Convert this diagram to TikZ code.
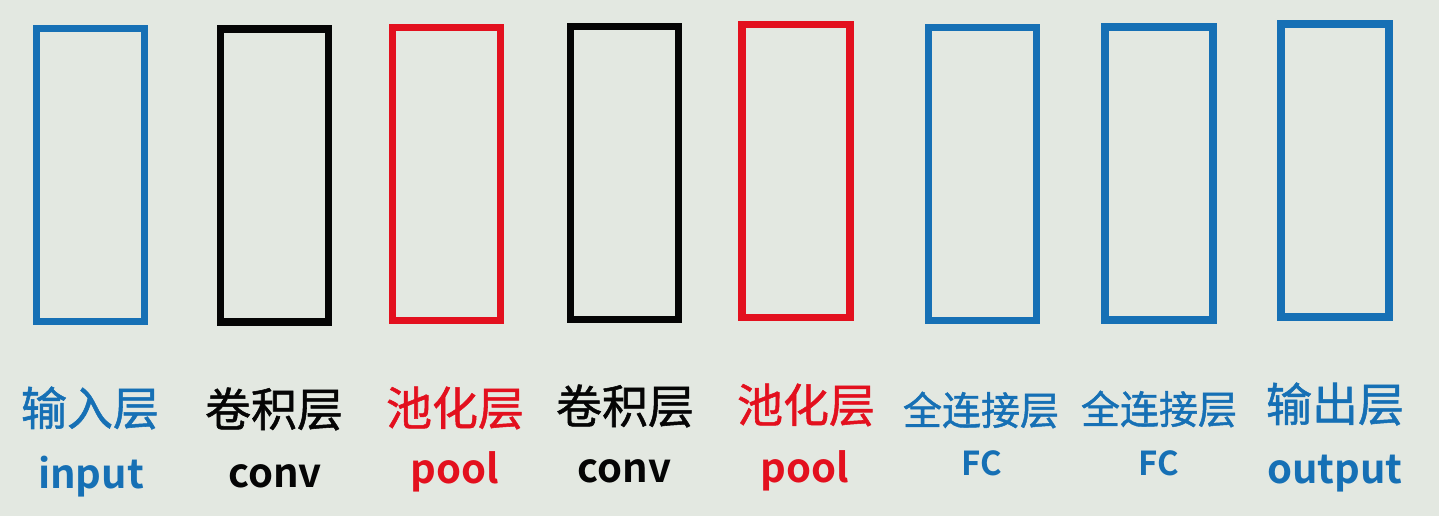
\documentclass[tikz,border=0pt]{standalone}
\usepackage{fontspec}
\newfontfamily\cjk[RawFeature={embolden=1.2}]{Noto Sans CJK SC}
\newfontfamily\cjkb{Noto Sans CJK SC Bold}
\definecolor{bg}{HTML}{E3E8E1}
\definecolor{lblue}{HTML}{1670B5}
\definecolor{lred}{HTML}{E3101E}
\definecolor{lblack}{HTML}{050505}
\tikzset{
  layerbox/.style={draw=#1, line width=7.5pt, minimum width=108pt, minimum height=293pt, inner sep=0pt},
  zh/.style={text=#1, font=\cjk\fontsize{46pt}{46pt}\selectfont, inner sep=0pt, anchor=center},
  zhs/.style={text=#1, font=\cjk\fontsize{39pt}{39pt}\selectfont, inner sep=0pt, anchor=center},
  en/.style={text=#1, font=\cjkb\fontsize{40pt}{40pt}\selectfont, inner sep=0pt, anchor=base},
  ens/.style={text=#1, font=\cjkb\fontsize{33pt}{33pt}\selectfont, inner sep=0pt, anchor=base}
}
\begin{document}
\begin{tikzpicture}[x=1pt,y=-1pt]
\fill[bg] (0,0) rectangle (1439,516);
\useasboundingbox (0,0) rectangle (1439,516);
% boxes
\node[layerbox=lblue]  (b1) at (90.5,175)   {};
\node[layerbox=lblack] (b2) at (274.5,175.5) {};
\node[layerbox=lred]   (b3) at (446.5,174)  {};
\node[layerbox=lblack] (b4) at (624.5,173)  {};
\node[layerbox=lred]   (b5) at (796,171)    {};
\node[layerbox=lblue]  (b6) at (982.5,174)  {};
\node[layerbox=lblue]  (b7) at (1159,173.5) {};
\node[layerbox=lblue]  (b8) at (1335,170.5) {};
% chinese labels
\node[zh=lblue]   (z1) at (90,408)   {输入层};
\node[zh=lblack]  (z2) at (274,409)  {卷积层};
\node[zh=lred]    (z3) at (455,408)  {池化层};
\node[zh=lblack]  (z4) at (625,406)  {卷积层};
\node[zh=lred]    (z5) at (806,405)  {池化层};
\node[zhs=lblue]  (z6) at (981,410)  {全连接层};
\node[zhs=lblue]  (z7) at (1159,409) {全连接层};
\node[zh=lblue]   (z8) at (1335,404) {输出层};
% english labels
\node[en=lblue]   (e1) at (91,488)   {input};
\node[en=lblack]  (e2) at (275,487)  {conv};
\node[en=lred]    (e3) at (455,483)  {pool};
\node[en=lblack]  (e4) at (624.5,482) {conv};
\node[en=lred]    (e5) at (805,482)  {pool};
\node[ens=lblue]  (e6) at (982,475)  {FC};
\node[ens=lblue]  (e7) at (1159,475) {FC};
\node[en=lblue]   (e8) at (1335,483) {output};
\end{tikzpicture}
\end{document}
